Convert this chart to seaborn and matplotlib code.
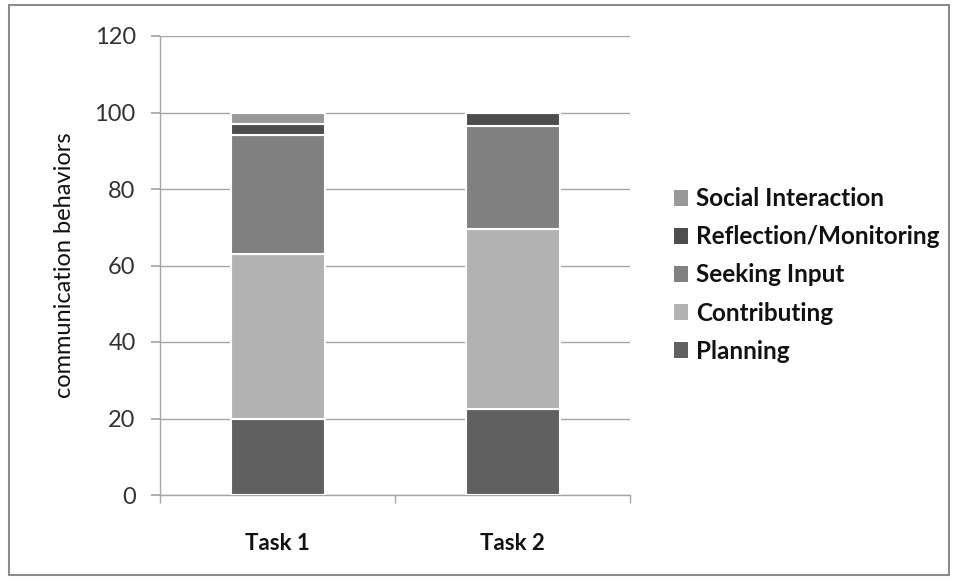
import matplotlib
matplotlib.use("Agg")
import matplotlib.pyplot as plt
import seaborn as sns
import numpy as np
import pandas as pd
from matplotlib.patches import Rectangle, Patch

tasks = ["Task 1", "Task 2"]
categories = ["Planning", "Contributing", "Seeking Input", "Reflection/Monitoring", "Social Interaction"]
planning = [20, 22.5]
contributing = [43, 47]
seeking_input = [31, 27]
reflection = [3, 3.5]
social = [3, 0]
series = [planning, contributing, seeking_input, reflection, social]
colors = ["#606060", "#b2b2b2", "#808080", "#4d4d4d", "#999999"]

sns.set_theme(style="white")
plt.rcParams["font.family"] = ["Lato", "DejaVu Sans"]

fig = plt.figure(figsize=(9.58, 5.8), dpi=100)
ax = fig.add_axes([160/958, 1-495/580, 470/958, 459/580])

bottom = np.zeros(len(tasks))
for name, vals, col in zip(categories, series, colors):
    df = pd.DataFrame({"task": tasks, "value": vals})
    sns.barplot(data=df, x="task", y="value", ax=ax, color=col, width=0.4,
                bottom=bottom, edgecolor="white", linewidth=1.5, saturation=1, zorder=3)
    bottom = bottom + np.array(vals)

ax.set_ylim(0, 120)
ax.set_xlim(-0.5, 1.5)
ax.set_yticks(range(0, 121, 20))
ax.yaxis.grid(True, color="#a6a6a6", linewidth=1, zorder=0)
ax.set_axisbelow(True)
for s in ["top", "right"]:
    ax.spines[s].set_visible(False)
for s in ["left", "bottom"]:
    ax.spines[s].set_color("#a6a6a6")
    ax.spines[s].set_linewidth(1)
ax.tick_params(axis="y", which="major", left=True, length=6.5, color="#a6a6a6",
               labelsize=17, labelcolor="#333333", pad=11)
ax.tick_params(axis="x", which="major", bottom=False, labelsize=16, pad=21, labelcolor="#111111")
for lbl in ax.get_xticklabels():
    lbl.set_fontweight("bold")
ax.set_xticks([-0.5, 0.5, 1.5], minor=True)
ax.tick_params(axis="x", which="minor", bottom=True, length=6, color="#a6a6a6")
ax.set_xlabel("")
ax.set_ylabel("communication behaviors", fontsize=17, labelpad=14, color="#111111")

handles = [Patch(facecolor=c, edgecolor="none") for c in colors[::-1]]
leg = fig.legend(handles, categories[::-1], loc="center left",
                 bbox_to_anchor=(652/958, 1-275/580), frameon=False,
                 prop={"weight": "bold", "size": 17.5}, handlelength=0.6, handleheight=0.6,
                 handletextpad=0.3, labelspacing=0.62)
for t in leg.get_texts():
    t.set_color("#111111")

fig.patches.append(Rectangle((9/958, 5/580), 940/958, 570/580, transform=fig.transFigure,
                             fill=False, edgecolor="#8c8c8c", linewidth=1.5))

fig.savefig("out.png", dpi=100)
